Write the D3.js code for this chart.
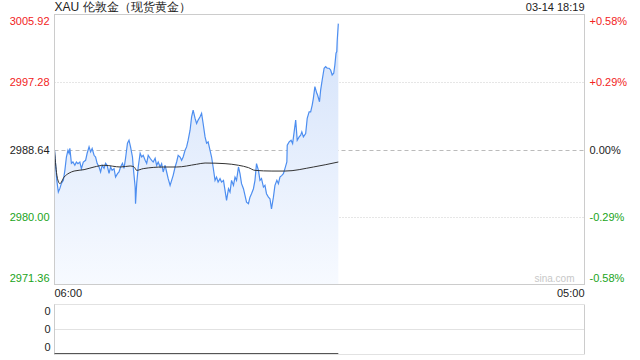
<!DOCTYPE html>
<html>
<head>
<meta charset="utf-8">
<script src="https://cdn.jsdelivr.net/npm/d3@7"></script>
<style>
  body { margin: 0; background: #fff; }
  svg { font-family: "Liberation Sans", Arial, sans-serif; }
</style>
</head>
<body>
<svg id="pic" width="640" height="360"></svg>
<script>
// ---- data ----
var title = "XAU 伦敦金（现货黄金）";
var stamp = "03-14 18:19";
var prevClose = 2988.64;
var priceTicks = [3005.92, 2997.28, 2988.64, 2980.00, 2971.36];
var pctTicks = ["+0.58%", "+0.29%", "0.00%", "-0.29%", "-0.58%"];
var timeTicks = ["06:00", "05:00"];
var volTicks = ["0", "0", "0"];

// minutes after 06:00
var minutes = [0, 6, 10, 14, 18, 23, 27, 31, 35, 38, 40, 44, 48, 53, 57, 61, 66, 70, 75, 81,
  85, 90, 94, 98, 103, 107, 111, 116, 120, 124, 129, 133, 137, 142, 146, 150, 155, 159, 164, 168,
  172, 177, 181, 185, 190, 194, 198, 203, 205, 210, 211, 214, 218, 223, 227, 231, 236, 240, 244, 249,
  253, 257, 262, 266, 270, 275, 279, 283, 288, 292, 296, 301, 305, 309, 314, 318, 322, 327, 331, 335,
  340, 344, 348, 353, 357, 361, 366, 370, 374, 379, 383, 387, 392, 396, 400, 405, 409, 413, 418, 422,
  426, 431, 435, 440, 444, 448, 453, 457, 461, 466, 470, 474, 479, 483, 487, 492, 496, 500, 505, 509,
  513, 518, 522, 526, 531, 535, 539, 544, 548, 552, 557, 561, 565, 570, 574, 579, 583, 587, 592, 596,
  600, 605, 606, 611, 616, 620, 624, 628, 632, 637, 641, 644, 648, 654, 658, 663, 667, 671, 674, 678,
  683, 685, 690, 693, 697, 702, 706, 710, 715, 719, 723, 727, 730, 733, 735, 736, 739];
var prices = [2988.60, 2984.69, 2983.19, 2983.66, 2984.30, 2984.69, 2985.97, 2987.68, 2988.54, 2988.16,
  2988.80, 2986.87, 2987.04, 2986.62, 2987.04, 2986.83, 2987.04, 2986.19, 2987.04, 2987.26,
  2988.16, 2988.97, 2988.33, 2988.76, 2987.90, 2987.68, 2986.87, 2986.40, 2985.76, 2986.62,
  2986.23, 2986.87, 2986.62, 2985.59, 2986.40, 2985.97, 2986.19, 2985.11, 2985.55, 2985.76,
  2986.40, 2986.87, 2986.23, 2987.52, 2989.44, 2989.83, 2988.97, 2987.68, 2986.40, 2983.83,
  2981.70, 2984.27, 2986.40, 2988.16, 2987.68, 2987.90, 2987.26, 2986.87, 2987.90, 2987.52,
  2987.26, 2987.04, 2987.52, 2986.62, 2987.04, 2986.40, 2986.83, 2985.76, 2986.62, 2985.76,
  2984.91, 2984.05, 2984.69, 2985.33, 2986.40, 2987.04, 2987.90, 2987.68, 2987.26, 2987.68,
  2988.54, 2988.97, 2989.83, 2991.11, 2992.82, 2993.68, 2992.62, 2991.97, 2992.40, 2992.82,
  2993.26, 2991.97, 2990.25, 2989.44, 2989.61, 2988.54, 2987.68, 2986.40, 2984.69, 2985.11,
  2984.47, 2984.91, 2984.47, 2984.69, 2983.40, 2982.12, 2983.62, 2983.19, 2984.69, 2984.05,
  2985.11, 2984.69, 2986.40, 2985.55, 2984.27, 2983.62, 2982.76, 2981.90, 2981.70, 2982.54,
  2982.98, 2983.62, 2984.69, 2986.83, 2985.97, 2984.69, 2984.91, 2983.83, 2984.05, 2982.98,
  2982.54, 2982.34, 2981.05, 2982.54, 2984.05, 2984.69, 2984.27, 2985.11, 2985.33, 2985.55,
  2986.19, 2987.04, 2989.19, 2989.61, 2989.83, 2989.40, 2990.89, 2992.40, 2989.83, 2990.25,
  2990.47, 2990.89, 2990.25, 2990.69, 2992.62, 2993.46, 2993.46, 2994.33, 2995.19, 2996.68,
  2995.83, 2995.61, 2994.75, 2996.25, 2997.54, 2999.04, 2999.25, 2999.04, 2999.04, 2998.82,
  2998.18, 2998.40, 2999.46, 3000.97, 3001.17, 3002.46, 3004.75];

// average price line
var avgMinutes = [0, 7, 14, 25, 38, 51, 77, 103, 129, 172, 197, 207, 214, 231, 283, 318, 370, 392,
  444, 479, 505, 522, 566, 600, 674, 739];
var avgPrices = [2988.54, 2985.11, 2984.27, 2985.11, 2985.62, 2985.88, 2986.06, 2986.40, 2986.62,
  2986.40, 2986.53, 2986.42, 2985.97, 2986.19, 2986.40, 2986.40, 2986.75, 2986.91, 2986.83,
  2986.62, 2986.32, 2985.97, 2985.88, 2985.88, 2986.40, 2987.04];

// ---- layout ----
var svg = d3.select("#pic");
var pLeft = 54.5, pRight = 584.5, pTop = 14.5, pBottom = 284.5;
var volTop = 304.5, volBottom = 354.5;

var x = d3.scaleLinear().domain([0, 1380]).range([pLeft, pRight]);
var y = d3.scaleLinear().domain([priceTicks[4], priceTicks[0]]).range([pBottom, pTop]);
var vy = d3.scaleLinear().domain([0, 2]).range([volBottom - 7, volTop + 7]);

var up = "#f22323", down = "#1aa41a", flat = "#222";
function tickColor(v) { return v > prevClose ? up : (v < prevClose ? down : flat); }

// gradient for area
var defs = svg.append("defs");
var grad = defs.append("linearGradient").attr("id", "fill")
  .attr("gradientUnits", "userSpaceOnUse")
  .attr("x1", 0).attr("y1", pTop).attr("x2", 0).attr("y2", pBottom);
grad.append("stop").attr("offset", "0").attr("stop-color", "#d2e1fa");
grad.append("stop").attr("offset", "1").attr("stop-color", "#f7faff");

// title + time stamp
svg.append("text").attr("x", pLeft).attr("y", 11).attr("font-size", 12).attr("fill", "#222").text(title);
svg.append("text").attr("x", pRight).attr("y", 11).attr("font-size", 11).attr("fill", "#222")
  .attr("text-anchor", "end").text(stamp);

// horizontal gridlines
svg.append("g").selectAll("line").data(priceTicks.slice(1, 4)).join("line")
  .attr("x1", pLeft).attr("x2", pRight)
  .attr("y1", function(d){ return Math.round(y(d)) + 0.5; })
  .attr("y2", function(d){ return Math.round(y(d)) + 0.5; })
  .attr("stroke", function(d){ return d === prevClose ? "#bbb" : "#ccc"; })
  .attr("stroke-dasharray", function(d){ return d === prevClose ? "4,3" : "1,2"; });

// area + lines
var pts = minutes.map(function(m, i){ return [m, prices[i]]; });
var area = d3.area().x(function(d){ return x(d[0]); }).y0(pBottom).y1(function(d){ return y(d[1]); });
svg.append("path").datum(pts).attr("d", area).attr("fill", "url(#fill)");

var line = d3.line().x(function(d){ return x(d[0]); }).y(function(d){ return y(d[1]); });
svg.append("path").datum(pts).attr("d", line)
  .attr("fill", "none").attr("stroke", "#4d8ef0").attr("stroke-width", 1.2);

var avg = avgMinutes.map(function(m, i){ return [m, avgPrices[i]]; });
var avgLine = d3.line().curve(d3.curveMonotoneX)
  .x(function(d){ return x(d[0]); }).y(function(d){ return y(d[1]); });
svg.append("path").datum(avg).attr("d", avgLine)
  .attr("fill", "none").attr("stroke", "#333").attr("stroke-width", 1);

// frame
svg.append("rect").attr("x", pLeft).attr("y", pTop).attr("width", pRight - pLeft).attr("height", pBottom - pTop)
  .attr("fill", "none").attr("stroke", "#ccc");

// left price axis
var yl = d3.axisLeft(y).tickValues(priceTicks).tickSize(0).tickPadding(4)
  .tickFormat(d3.format(".2f"));
var gl = svg.append("g").attr("transform", "translate(" + (pLeft - 1) + ",0)").call(yl);
gl.select(".domain").remove();
gl.selectAll("text").attr("font-size", 11).attr("font-family", "Liberation Sans, Arial, sans-serif")
  .attr("fill", function(d){ return tickColor(d); })
  .attr("dy", function(d, i){ return i === 0 ? "0.95em" : (i === 4 ? "-0.3em" : "0.32em"); });

// right percent axis
var yr = d3.axisRight(y).tickValues(priceTicks).tickSize(0).tickPadding(5)
  .tickFormat(function(d, i){ return pctTicks[i]; });
var gr = svg.append("g").attr("transform", "translate(" + pRight + ",0)").call(yr);
gr.select(".domain").remove();
gr.selectAll("text").attr("font-size", 11).attr("font-family", "Liberation Sans, Arial, sans-serif")
  .attr("fill", function(d){ return tickColor(d); })
  .attr("dy", function(d, i){ return i === 0 ? "0.95em" : (i === 4 ? "-0.3em" : "0.32em"); });

// watermark
svg.append("text").attr("x", pRight - 10).attr("y", pBottom - 3).attr("text-anchor", "end")
  .attr("font-size", 10).attr("fill", "#c8c8c8").text("sina.com");

// time labels
svg.append("g").selectAll("text").data(timeTicks).join("text")
  .attr("x", function(d, i){ return i === 0 ? pLeft : pRight; })
  .attr("y", 297).attr("font-size", 11).attr("fill", "#222")
  .attr("text-anchor", function(d, i){ return i === 0 ? "start" : "end"; })
  .text(function(d){ return d; });

// volume panel
var vg = svg.append("g");
vg.append("line").attr("x1", pLeft).attr("x2", pLeft).attr("y1", volTop).attr("y2", volBottom).attr("stroke", "#ccc");
vg.append("line").attr("x1", pRight).attr("x2", pRight).attr("y1", volTop).attr("y2", volBottom).attr("stroke", "#ccc");
vg.selectAll("line.g").data([volTop, (volTop + volBottom) / 2, volBottom]).join("line").attr("class", "g")
  .attr("x1", pLeft).attr("x2", pRight).attr("y1", function(d){ return Math.round(d) - 0.5; })
  .attr("y2", function(d){ return Math.round(d) - 0.5; })
  .attr("stroke", "#c4c4c4").attr("stroke-dasharray", "1,1");
vg.append("line").attr("x1", pLeft).attr("x2", x(minutes[minutes.length - 1]))
  .attr("y1", volBottom - 1).attr("y2", volBottom - 1).attr("stroke", "#555");
vg.selectAll("text").data(volTicks).join("text")
  .attr("x", pLeft - 4).attr("y", function(d, i){ return vy(2 - i); })
  .attr("dy", "0.35em").attr("text-anchor", "end").attr("font-size", 11).attr("fill", "#222")
  .text(function(d){ return d; });
</script>
</body>
</html>
